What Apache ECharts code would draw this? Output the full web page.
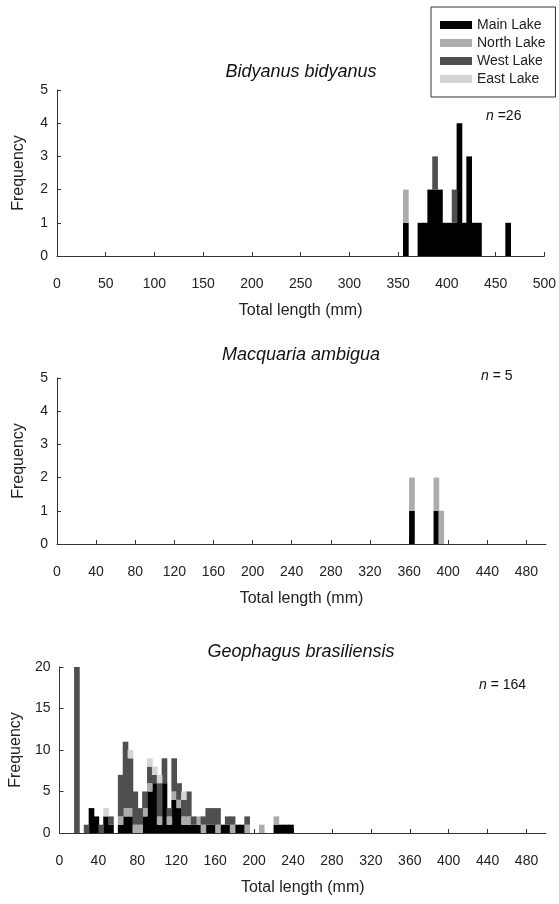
<!DOCTYPE html>
<html>
<head>
<meta charset="utf-8">
<script src="https://cdn.jsdelivr.net/npm/echarts@6/dist/echarts.min.js"></script>
<style>
  html, body { margin: 0; padding: 0; background: #fff; }
  #chart { width: 559px; height: 904px; }
</style>
</head>
<body>
<div id="chart"></div>
<script>
// lakes (stack order bottom -> top)
const lakes = ["Main Lake", "North Lake", "West Lake", "East Lake"]
const lakeColors = ["#000000", "#acacac", "#4f4f4f", "#d5d5d5"]

// Bidyanus bidyanus, 5 mm bins (bin start, mm)
const bidBins = [355, 370, 375, 380, 385, 390, 395, 400, 405, 410, 415, 420, 425, 430, 460]
const bidMain = [1, 1, 1, 2, 2, 2, 1, 1, 1, 4, 1, 3, 1, 1, 1]
const bidNorth = [1, 0, 0, 0, 0, 0, 0, 0, 0, 0, 0, 0, 0, 0, 0]
const bidWest = [0, 0, 0, 0, 1, 0, 0, 0, 1, 0, 0, 0, 0, 0, 0]
const bidEast = [0, 0, 0, 0, 0, 0, 0, 0, 0, 0, 0, 0, 0, 0, 0]

// Macquaria ambigua
const macBins = [360, 385, 390]
const macMain = [1, 1, 0]
const macNorth = [1, 1, 1]
const macWest = [0, 0, 0]
const macEast = [0, 0, 0]

// Geophagus brasiliensis
const geoBins = [15, 25, 30, 35, 40, 45, 50, 60, 65, 70, 75, 80, 85, 90, 95, 100, 105, 110, 115, 120,
  125, 130, 135, 140, 145, 150, 155, 160, 165, 170, 175, 180, 185, 190, 205, 220, 225, 230, 235]
const geoMain = [0, 0, 3, 2, 0, 2, 1, 1, 2, 2, 0, 0, 2, 5, 6, 1, 6, 1, 4, 3,
  1, 1, 1, 1, 0, 1, 1, 0, 1, 1, 0, 1, 1, 0, 0, 1, 1, 1, 1]
const geoNorth = [0, 0, 0, 0, 0, 0, 0, 1, 1, 1, 1, 1, 1, 1, 0, 1, 0, 1, 1, 1,
  1, 1, 0, 1, 1, 0, 0, 1, 0, 0, 1, 0, 0, 1, 1, 1, 0, 0, 0]
const geoWest = [20, 1, 0, 0, 1, 0, 1, 5, 8, 6, 4, 2, 2, 2, 1, 4, 3, 1, 4, 2,
  2, 3, 1, 0, 1, 2, 2, 2, 0, 1, 1, 0, 0, 1, 0, 0, 0, 0, 0]
const geoEast = [0, 0, 0, 0, 0, 1, 0, 0, 0, 1, 0, 0, 0, 1, 1, 1, 0, 0, 0, 0,
  1, 0, 0, 0, 0, 0, 0, 0, 0, 0, 0, 0, 0, 0, 0, 0, 0, 0, 0]

const xTicks50 = [0, 50, 100, 150, 200, 250, 300, 350, 400, 450, 500]
const xTicks40 = [0, 40, 80, 120, 160, 200, 240, 280, 320, 360, 400, 440, 480]
const binWidth = 5

const panels = [
  { title: "Bidyanus bidyanus", n: "=26", bins: bidBins, vals: [bidMain, bidNorth, bidWest, bidEast],
    yMax: 5, yStep: 1, xTicks: xTicks50, top: 90, titleY: 72, nX: 486, nY: 116 },
  { title: "Macquaria ambigua", n: "= 5", bins: macBins, vals: [macMain, macNorth, macWest, macEast],
    yMax: 5, yStep: 1, xTicks: xTicks40, top: 378, titleY: 355, nX: 481, nY: 376 },
  { title: "Geophagus brasiliensis", n: "= 164", bins: geoBins, vals: [geoMain, geoNorth, geoWest, geoEast],
    yMax: 20, yStep: 5, xTicks: xTicks40, top: 667, titleY: 652, nX: 479, nY: 685 },
]

const font = "Liberation Sans, Arial, sans-serif"
const axisColor = "#333"
const labelColor = "#222"

const myE = echarts.init(document.getElementById("chart"))

// stacked histogram bar: value = [binStart, base, top]
const renderBin = (params, api) => {
  const lo = api.value(1), hi = api.value(2)
  if (hi <= lo) return null
  const p0 = api.coord([api.value(0), lo])
  const p1 = api.coord([api.value(0) + binWidth, hi])
  return {
    type: "rect",
    shape: { x: p0[0], y: p1[1], width: p1[0] - p0[0] + 0.8, height: p0[1] - p1[1] },
    style: { fill: api.visual("color") },
  }
}

const grids = [], xAxes = [], yAxes = [], series = [], graphics = []
panels.forEach((p, i) => {
  grids.push({ left: 57, right: 13, top: p.top, height: 166 })
  xAxes.push({
    gridIndex: i,
    type: "value",
    min: 0,
    max: 500,
    interval: p.xTicks[1] - p.xTicks[0],
    offset: 13,
    splitLine: { show: false },
    axisLine: { lineStyle: { color: axisColor, width: 1 } },
    axisTick: { inside: true, length: 4, customValues: p.xTicks, lineStyle: { color: axisColor } },
    axisLabel: { customValues: p.xTicks, margin: 8, color: labelColor, fontSize: 14, fontFamily: font },
    name: "Total length (mm)",
    nameLocation: "middle",
    nameGap: 34,
    nameTextStyle: { fontSize: 16, color: labelColor, fontFamily: font },
  })
  yAxes.push({
    gridIndex: i,
    type: "value",
    min: 0,
    max: p.yMax,
    interval: p.yStep,
    splitLine: { show: false },
    axisLine: { show: true, lineStyle: { color: axisColor, width: 1 } },
    axisTick: { show: true, inside: true, length: 4, lineStyle: { color: axisColor } },
    axisLabel: { margin: 9, color: labelColor, fontSize: 14, fontFamily: font },
    name: "Frequency",
    nameLocation: "middle",
    nameRotate: 90,
    nameGap: p.yMax > 9 ? 31 : 30,
    nameTextStyle: { fontSize: 16, color: labelColor, fontFamily: font },
  })
  const base = p.bins.map(() => 0)
  lakes.forEach((lake, k) => {
    const data = p.bins.map((b, j) => {
      const lo = base[j]
      base[j] += p.vals[k][j]
      return [b, lo, base[j]]
    })
    series.push({
      name: lake,
      type: "custom",
      xAxisIndex: i,
      yAxisIndex: i,
      itemStyle: { color: lakeColors[k] },
      encode: { x: 0, y: [1, 2] },
      renderItem: renderBin,
      data: data,
    })
  })
  graphics.push({
    type: "text",
    style: {
      x: 301, y: p.titleY, text: p.title, fill: "#111",
      font: "italic 18px " + font, textAlign: "center", textVerticalAlign: "middle",
    },
  })
  graphics.push({
    type: "text",
    style: {
      x: p.nX, y: p.nY, text: "{i|n} " + p.n, fill: "#111",
      font: "14px " + font, textVerticalAlign: "middle",
      rich: { i: { fontStyle: "italic", fontSize: 14, fontFamily: font } },
    },
  })
})

let option = {
  animation: false,
  backgroundColor: "#fff",
  legend: {
    data: lakes,
    orient: "vertical",
    left: 431,
    top: 7,
    itemWidth: 32,
    itemHeight: 8,
    itemGap: 2,
    icon: "rect",
    padding: [10, 10, 10, 9],
    borderColor: "#333",
    borderWidth: 1,
    selectedMode: false,
    textStyle: { fontSize: 14, color: labelColor, fontFamily: font, lineHeight: 16 },
  },
  grid: grids,
  xAxis: xAxes,
  yAxis: yAxes,
  series: series,
  graphic: graphics,
}
myE.setOption(option)
</script>
</body>
</html>
